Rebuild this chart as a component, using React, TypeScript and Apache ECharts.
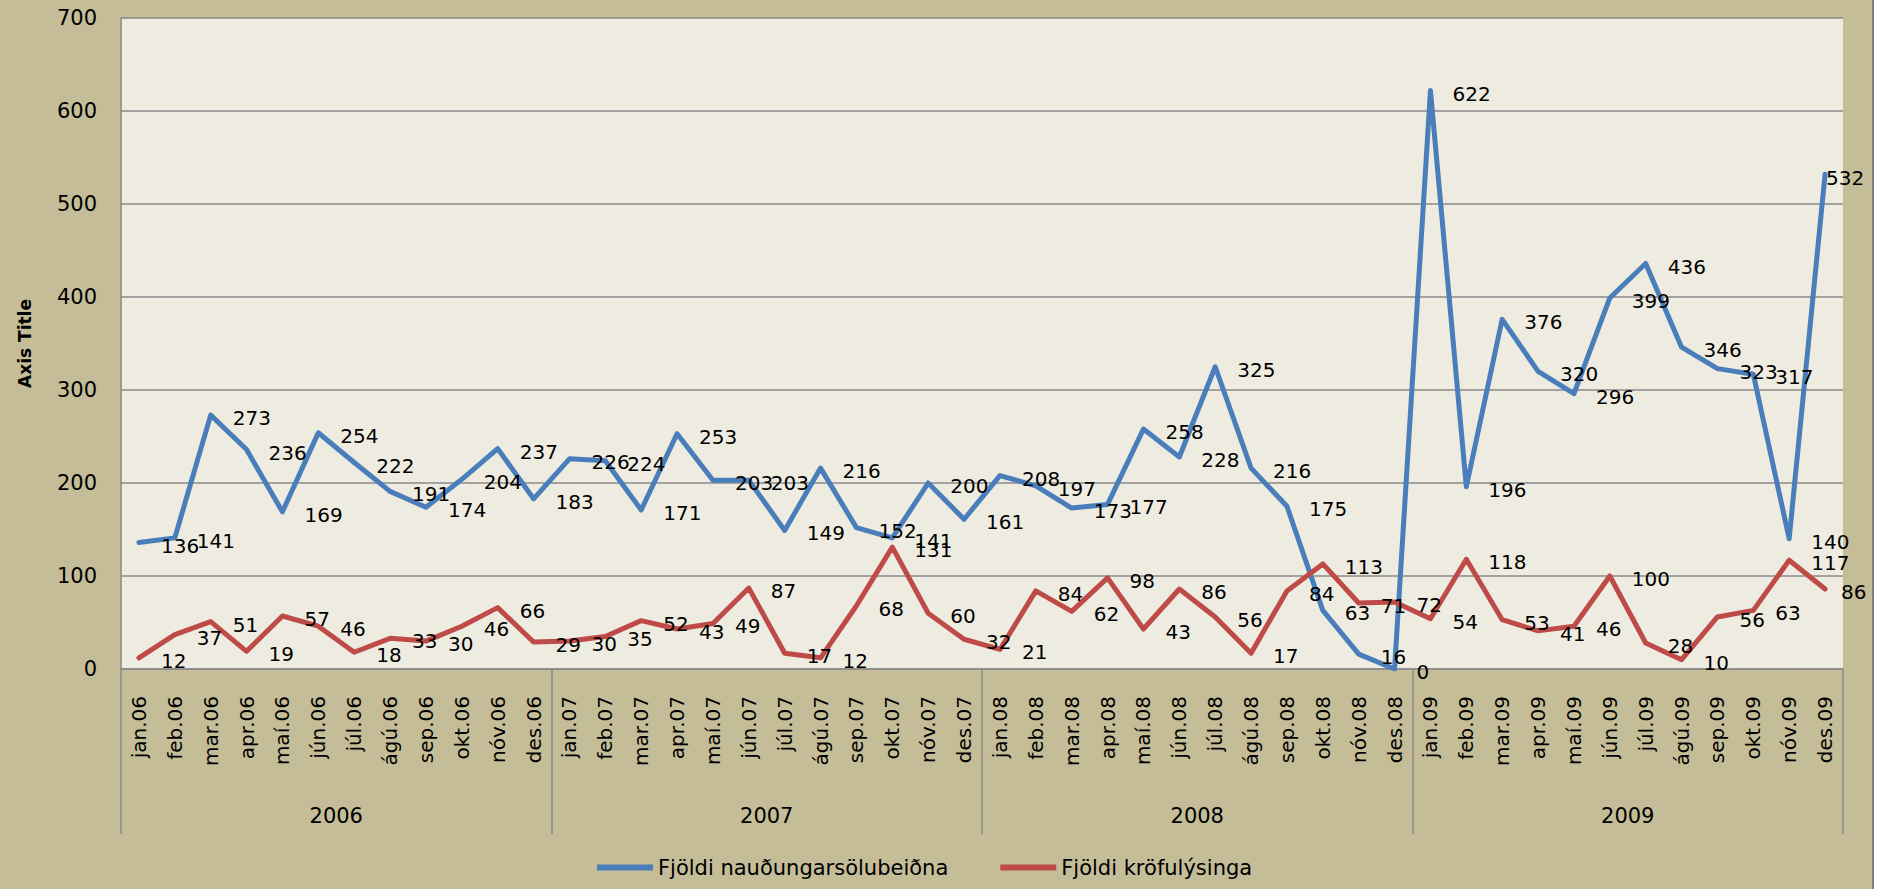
import React, { useEffect, useRef } from "react";
import * as echarts from "echarts";

const monthNames = ["jan", "feb", "mar", "apr", "maí", "jún", "júl", "ágú", "sep", "okt", "nóv", "des"];
const yearSuffixes = ["06", "07", "08", "09"];
const yearLabels = ["2006", "2007", "2008", "2009"];

const seriesNames = ["Fjöldi nauðungarsölubeiðna", "Fjöldi kröfulýsinga"];

const nauðungarsolubeidnir = [
  136, 141, 273, 236, 169, 254, 222, 191, 174, 204, 237, 183,
  226, 224, 171, 253, 203, 203, 149, 216, 152, 141, 200, 161,
  208, 197, 173, 177, 258, 228, 325, 216, 175, 63, 16, 0,
  622, 196, 376, 320, 296, 399, 436, 346, 323, 317, 140, 532,
];

const krofulysingar = [
  12, 37, 51, 19, 57, 46, 18, 33, 30, 46, 66, 29,
  30, 35, 52, 43, 49, 87, 17, 12, 68, 131, 60, 32,
  21, 84, 62, 98, 43, 86, 56, 17, 84, 113, 71, 72,
  54, 118, 53, 41, 46, 100, 28, 10, 56, 63, 117, 86,
];

const categories = yearSuffixes.flatMap((y) => monthNames.map((m) => `${m}.${y}`));

const FONT = "DejaVu Sans";
const GRID_COLOR = "#8a8a8a";

export default function App() {
  const ref = useRef<HTMLDivElement>(null);

  useEffect(() => {
    if (!ref.current) return;
    const chart = echarts.init(ref.current, undefined, { renderer: "svg" });

    const labelStyle = {
      show: true,
      position: "right" as const,
      distance: 21,
      color: "#000",
      fontFamily: FONT,
      fontSize: 20,
      offset: [0, 3],
    };

    // The last labels are pulled in so they stay inside the chart, as in the original.
    const blueData = nauðungarsolubeidnir.map((v, i) =>
      i === nauðungarsolubeidnir.length - 1 ? { value: v, label: { distance: 0, offset: [0, 4] } } : v
    );
    const redData = krofulysingar.map((v, i) =>
      i === krofulysingar.length - 1 ? { value: v, label: { distance: 15 } } : v
    );

    chart.setOption({
      animation: false,
      backgroundColor: "#C4BD97",
      textStyle: { fontFamily: FONT },
      grid: {
        left: 121,
        top: 18,
        right: 42,
        bottom: 220,
        show: true,
        backgroundColor: "#EEECE1",
        borderWidth: 0,
      },
      legend: {
        data: seriesNames,
        left: 597,
        top: 857,
        padding: 0,
        icon: "rect",
        itemWidth: 56,
        itemHeight: 6,
        itemGap: 52,
        textStyle: { fontFamily: FONT, fontSize: 21, color: "#000" },
      },
      xAxis: [
        {
          type: "category",
          data: categories,
          boundaryGap: true,
          position: "bottom",
          axisLine: { show: true, lineStyle: { color: GRID_COLOR, width: 1.5 } },
          axisTick: { show: false },
          axisLabel: {
            rotate: 90,
            interval: 0,
            margin: 27,
            color: "#000",
            fontFamily: FONT,
            fontSize: 20,
          },
          splitLine: { show: false },
        },
        {
          type: "category",
          data: yearLabels,
          boundaryGap: true,
          position: "bottom",
          axisLine: { show: false },
          axisTick: {
            show: true,
            length: 165,
            interval: 0,
            lineStyle: { color: GRID_COLOR, width: 1.5 },
          },
          axisLabel: {
            margin: 136,
            interval: 0,
            color: "#000",
            fontFamily: FONT,
            fontSize: 21,
          },
          splitLine: { show: false },
        },
      ],
      yAxis: {
        type: "value",
        min: 0,
        max: 700,
        interval: 100,
        name: "Axis Title",
        nameLocation: "middle",
        nameRotate: 90,
        nameGap: 88,
        nameTextStyle: { fontFamily: FONT, fontSize: 17, fontWeight: "bold", color: "#000" },
        axisLine: { show: true, lineStyle: { color: GRID_COLOR, width: 1.5 } },
        axisTick: { show: false },
        axisLabel: { margin: 24, color: "#000", fontFamily: FONT, fontSize: 21 },
        splitLine: { show: true, lineStyle: { color: GRID_COLOR, width: 1.5 } },
      },
      series: [
        {
          name: seriesNames[0],
          type: "line",
          data: blueData,
          color: "#4A7EBB",
          symbol: "circle",
          symbolSize: 2,
          showSymbol: true,
          lineStyle: { width: 5, color: "#4A7EBB", cap: "round", join: "round" },
          itemStyle: { color: "#4A7EBB" },
          label: labelStyle,
        },
        {
          name: seriesNames[1],
          type: "line",
          data: redData,
          color: "#BE4B48",
          symbol: "circle",
          symbolSize: 2,
          showSymbol: true,
          lineStyle: { width: 5, color: "#BE4B48", cap: "round", join: "round" },
          itemStyle: { color: "#BE4B48" },
          label: labelStyle,
        },
      ],
      graphic: [
        {
          type: "rect",
          shape: { x: 1873, y: 0, width: 12, height: 889 },
          style: { fill: "#ffffff" },
          silent: true,
        },
        {
          type: "line",
          shape: { x1: 1873, y1: 0, x2: 1873, y2: 889 },
          style: { stroke: "#7f7f7f", lineWidth: 2 },
          silent: true,
        },
      ],
    });

    return () => chart.dispose();
  }, []);

  return (
    <div
      ref={ref}
      style={{ position: "fixed", left: 0, top: 0, width: 1885, height: 889 }}
    />
  );
}
